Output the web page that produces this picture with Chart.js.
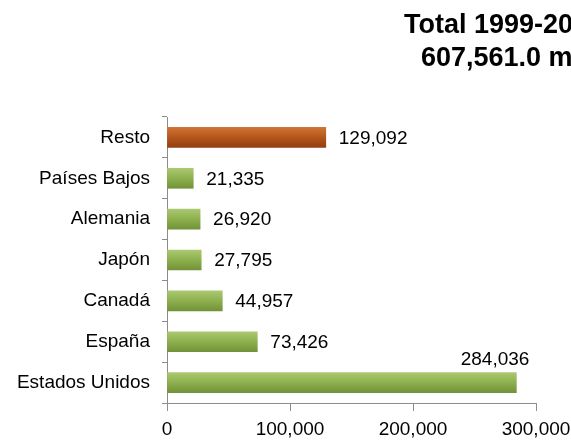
<!DOCTYPE html>
<html>
<head>
<meta charset="utf-8">
<script src="https://cdn.jsdelivr.net/npm/chart.js@4/dist/chart.umd.min.js"></script>
<style>
  html, body { margin: 0; padding: 0; background: #fff; overflow: hidden; }
  canvas { display: block; }
</style>
</head>
<body>
<canvas id="myChart" width="571" height="441"></canvas>
<script>
const countries = ['Resto', 'Países Bajos', 'Alemania', 'Japón', 'Canadá', 'España', 'Estados Unidos'];
const amounts = [129092, 21335, 26920, 27795, 44957, 73426, 284036];
const titleLines = ['Total 1999-2013', '607,561.0 mdd'];
const xTicks = [0, 100000, 200000, 300000];

const FONT = '"Liberation Sans", Arial, sans-serif';

function barFill(c) {
    const chart = c.chart;
    const orange = c.dataIndex === 0;
    if (!chart.chartArea) return orange ? '#B5561B' : '#8CAF4C';
    const y = chart.scales.y.getPixelForValue(c.dataIndex);
    const g = chart.ctx.createLinearGradient(0, y - 10, 0, y + 10);
    if (orange) {
        g.addColorStop(0, '#CF7436');
        g.addColorStop(0.45, '#B8581C');
        g.addColorStop(1, '#923F10');
    } else {
        g.addColorStop(0, '#ABC872');
        g.addColorStop(0.45, '#90B350');
        g.addColorStop(1, '#729238');
    }
    return g;
}

// title, cut at the right edge like the original
const titlePlugin = {
    id: 'titleText',
    afterDraw(chart) {
        const ctx = chart.ctx;
        ctx.save();
        ctx.font = 'bold 27px ' + FONT;
        ctx.fillStyle = '#000';
        ctx.textAlign = 'left';
        ctx.textBaseline = 'alphabetic';
        ctx.fillText(titleLines[0], 404, 33);
        ctx.fillText(titleLines[1], 421, 66);
        ctx.restore();
    }
};

// value labels next to the bars
const valueLabels = {
    id: 'valueLabels',
    afterDatasetsDraw(chart) {
        const ctx = chart.ctx;
        const meta = chart.getDatasetMeta(0);
        ctx.save();
        ctx.font = '19px ' + FONT;
        ctx.fillStyle = '#000';
        meta.data.forEach((bar, i) => {
            const txt = amounts[i].toLocaleString('en-US');
            const w = ctx.measureText(txt).width;
            if (bar.x + 12 + w > chart.width) {
                ctx.textAlign = 'right';
                ctx.textBaseline = 'bottom';
                ctx.fillText(txt, bar.x + 13, bar.y - bar.height / 2 - 3);
            } else {
                ctx.textAlign = 'left';
                ctx.textBaseline = 'middle';
                ctx.fillText(txt, bar.x + 13, bar.y + 1);
            }
        });
        ctx.restore();
    }
};

var ctx = document.getElementById('myChart').getContext('2d');

new Chart(ctx, {
    type: 'bar',
    data: {
        labels: countries,
        datasets: [{
            data: amounts,
            backgroundColor: barFill,
            borderWidth: 0,
            barThickness: 20
        }]
    },
    options: {
        indexAxis: 'y',
        responsive: false,
        animation: false,
        devicePixelRatio: 1,
        layout: { padding: { top: 117, right: 35, left: 0, bottom: 0 } },
        plugins: {
            legend: { display: false },
            title: { display: false },
            tooltip: { enabled: false }
        },
        scales: {
            x: {
                min: 0,
                max: 300000,
                afterBuildTicks: s => { s.ticks = xTicks.map(v => ({ value: v })); },
                afterFit: s => { s.height = 38; s.paddingRight = 0; s.paddingLeft = 0; },
                border: { color: '#8C8C8C', width: 1 },
                grid: { drawOnChartArea: false, color: '#8C8C8C', tickLength: 8 },
                ticks: {
                    color: '#000',
                    font: { family: FONT, size: 19 },
                    padding: 7,
                    maxRotation: 0,
                    callback: v => Number(v).toLocaleString('en-US')
                }
            },
            y: {
                afterFit: s => { s.width = 167; },
                border: { color: '#8C8C8C', width: 1 },
                grid: { drawOnChartArea: false, color: '#8C8C8C', tickLength: 5, offset: true },
                ticks: {
                    color: '#000',
                    font: { family: FONT, size: 19 },
                    padding: 12
                }
            }
        }
    },
    plugins: [titlePlugin, valueLabels]
});
</script>
</body>
</html>
